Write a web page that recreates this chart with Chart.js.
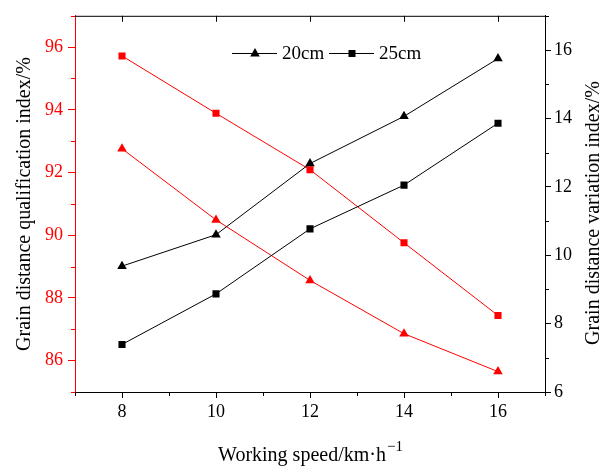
<!DOCTYPE html>
<html><head><meta charset="utf-8">
<script src="https://cdn.jsdelivr.net/npm/chart.js@4"></script>
<style>html,body{margin:0;padding:0;background:#fff}#wrap{width:602px;height:466px}</style>
</head><body><div id="wrap"><canvas id="c" width="602" height="466"></canvas></div>
<script>
const speeds = [8, 10, 12, 14, 16];
const qual20 = [92.76, 90.49, 88.56, 86.86, 85.65];
const qual25 = [95.72, 93.89, 92.09, 89.76, 87.44];
const var20 = [9.68, 10.6, 12.68, 14.06, 15.75];
const var25 = [7.39, 8.87, 10.77, 12.05, 13.86];
const xTicks = [8, 10, 12, 14, 16];
const xMinor = [7, 9, 11, 13, 15, 17];
const leftTicks = [86, 88, 90, 92, 94, 96];
const leftMinor = [85, 87, 89, 91, 93, 95, 97];
const rightTicks = [6, 8, 10, 12, 14, 16];
const rightMinor = [7, 9, 11, 13, 15, 17];
const legendLabels = ['20cm', '25cm'];
const leftTitle = 'Grain distance qualification index/%';
const rightTitle = 'Grain distance variation index/%';
const xTitle = 'Working speed/km\u00b7h';
const xTitleSup = '\u22121';

const FONT = '"Liberation Serif", "Times New Roman", serif';
const RED = '#ff0000';
const pts = ys => speeds.map((x, i) => ({x: x, y: ys[i]}));

const decor = {
  id: 'decor',
  afterDraw(chart) {
    const ctx = chart.ctx;
    const a = chart.chartArea;
    const sx = chart.scales.x, sl = chart.scales.yL, sr = chart.scales.yR;
    ctx.save();
    ctx.lineWidth = 1;
    ctx.strokeStyle = '#000';
    ctx.beginPath();
    ctx.moveTo(a.left, a.top + 0.5); ctx.lineTo(a.right, a.top + 0.5);
    ctx.stroke();
    ctx.beginPath();
    xTicks.forEach(v => { const p = Math.round(sx.getPixelForValue(v)) + 0.5; ctx.moveTo(p, a.top); ctx.lineTo(p, a.top + 6); });
    xMinor.forEach(v => { const p = Math.round(sx.getPixelForValue(v)) + 0.5; ctx.moveTo(p, a.bottom); ctx.lineTo(p, a.bottom + 4); });
    rightMinor.forEach(v => { const p = Math.round(sr.getPixelForValue(v)) + 0.5; ctx.moveTo(a.right, p); ctx.lineTo(a.right + 4, p); });
    ctx.stroke();
    ctx.strokeStyle = RED;
    ctx.beginPath();
    leftMinor.forEach(v => { const p = Math.round(sl.getPixelForValue(v)) + 0.5; ctx.moveTo(a.left, p); ctx.lineTo(a.left - 4, p); });
    ctx.stroke();

    ctx.fillStyle = '#000';
    ctx.font = '20px ' + FONT;
    ctx.textAlign = 'center';
    ctx.textBaseline = 'middle';
    ctx.save(); ctx.translate(25, 204); ctx.rotate(-Math.PI / 2); ctx.fillText(leftTitle, 0, 0); ctx.restore();
    ctx.save(); ctx.translate(594, 213); ctx.rotate(-Math.PI / 2); ctx.fillText(rightTitle, 0, 0); ctx.restore();
    ctx.textAlign = 'left';
    ctx.textBaseline = 'alphabetic';
    ctx.font = '20px ' + FONT;
    const w1 = ctx.measureText(xTitle).width;
    ctx.font = '15px ' + FONT;
    const w2 = ctx.measureText(xTitleSup).width;
    const x0 = (a.left + a.right) / 2 - (w1 + w2) / 2;
    ctx.font = '20px ' + FONT;
    ctx.fillText(xTitle, x0, 461);
    ctx.font = '15px ' + FONT;
    ctx.fillText(xTitleSup, x0 + w1 + 1, 451);

    ctx.font = '19px ' + FONT;
    ctx.textBaseline = 'middle';
    ctx.strokeStyle = '#000';
    ctx.fillStyle = '#000';
    const ly = 53.5;
    const items = [{x: 232, shape: 'triangle'}, {x: 329, shape: 'rect'}];
    items.forEach((it, i) => {
      ctx.beginPath(); ctx.moveTo(it.x, ly); ctx.lineTo(it.x + 45, ly); ctx.stroke();
      const cx = it.x + 23;
      ctx.beginPath();
      if (it.shape === 'triangle') {
        ctx.moveTo(cx, ly - 5.5); ctx.lineTo(cx + 4.8, ly + 3); ctx.lineTo(cx - 4.8, ly + 3); ctx.closePath();
      } else {
        ctx.rect(cx - 3.5, ly - 3.5, 7, 7);
      }
      ctx.fill();
      ctx.fillText(legendLabels[i], it.x + 50, ly + 1);
    });
    ctx.restore();
  }
};

const ds = (label, data, axis, color, shape) => ({
  label, data, yAxisID: axis, borderColor: color, backgroundColor: color,
  borderWidth: 1, pointStyle: shape, pointRadius: shape === 'rect' ? 5 : 5.5,
  pointBorderWidth: 0, pointHoverRadius: 5, tension: 0, fill: false
});

new Chart(document.getElementById('c'), {
  type: 'line',
  data: {
    datasets: [
      ds('20cm', pts(var20), 'yR', '#000', 'triangle'),
      ds('25cm', pts(var25), 'yR', '#000', 'rect'),
      ds('20cm q', pts(qual20), 'yL', RED, 'triangle'),
      ds('25cm q', pts(qual25), 'yL', RED, 'rect')
    ]
  },
  options: {
    responsive: false,
    animation: false,
    devicePixelRatio: 1,
    layout: {padding: {top: 15, left: 0, right: 0, bottom: 0}},
    plugins: {legend: {display: false}, tooltip: {enabled: false}},
    scales: {
      x: {
        type: 'linear', min: 7, max: 17,
        afterBuildTicks: s => { s.ticks = xTicks.map(v => ({value: v})); },
        afterFit: s => { s.height = 74; },
        ticks: {color: '#000', font: {family: FONT, size: 18}, padding: 3, maxRotation: 0},
        grid: {drawOnChartArea: false, tickLength: 6, tickColor: '#000', color: '#000'},
        border: {color: '#000', width: 1}
      },
      yL: {
        type: 'linear', position: 'left', min: 85, max: 97,
        afterBuildTicks: s => { s.ticks = leftTicks.map(v => ({value: v})); },
        afterFit: s => { s.width = 75; },
        ticks: {color: RED, font: {family: FONT, size: 18}, padding: 5},
        grid: {drawOnChartArea: false, tickLength: 7, tickColor: RED, color: RED},
        border: {color: RED, width: 1}
      },
      yR: {
        type: 'linear', position: 'right', min: 6, max: 17,
        afterBuildTicks: s => { s.ticks = rightTicks.map(v => ({value: v})); },
        afterFit: s => { s.width = 57; },
        ticks: {color: '#000', font: {family: FONT, size: 18}, padding: 3},
        grid: {drawOnChartArea: false, tickLength: 6, tickColor: '#000', color: '#000'},
        border: {color: '#000', width: 1}
      }
    }
  },
  plugins: [decor]
});
</script></body></html>
